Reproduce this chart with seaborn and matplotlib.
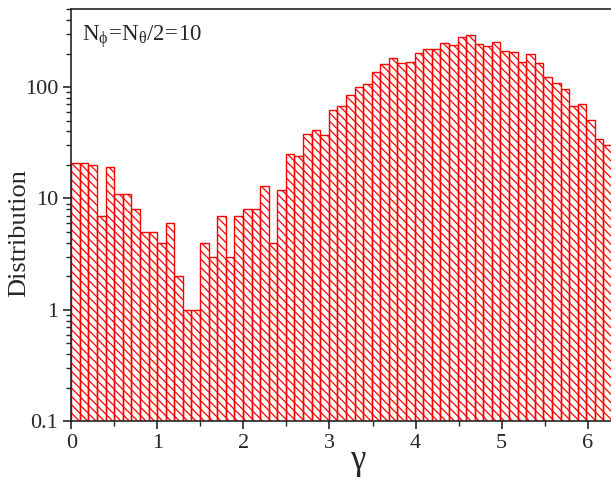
import numpy as np
import pandas as pd
import seaborn as sns
import matplotlib.pyplot as plt
from matplotlib.ticker import FixedLocator, LogLocator, FuncFormatter, MultipleLocator

# counts per bin, 63 bins spanning 0..2*pi
counts = [21, 21, 20, 7, 19, 11, 11, 8, 5, 5,
          4, 6, 2, 1, 1, 4, 3, 7, 3, 7,
          8, 8, 13, 4, 12, 25, 24, 38, 41, 37,
          62, 68, 85, 100, 106, 136, 160, 184, 166, 167,
          201, 221, 219, 246, 236, 280, 294, 244, 234, 252,
          210, 206, 167, 197, 164, 123, 108, 97, 67, 70,
          51, 34, 30]
bin_edges = list(np.linspace(0, 2 * np.pi, len(counts) + 1))
y_ticks = [0.1, 1, 10, 100]
x_ticks = [0, 1, 2, 3, 4, 5, 6]
label_text = r'$\mathregular{N_{\phi}\!=\!N_{\theta}/2\!=\!10}$'

sns.set_style("ticks")
plt.rcParams['font.family'] = 'serif'
plt.rcParams['font.serif'] = ['Liberation Serif', 'DejaVu Serif']
plt.rcParams['mathtext.fontset'] = 'stix'
plt.rcParams['hatch.color'] = 'red'
plt.rcParams['hatch.linewidth'] = 0.9

centers = [(a + b) / 2 for a, b in zip(bin_edges[:-1], bin_edges[1:])]
df = pd.DataFrame({'gamma': centers, 'count': counts})

fig = plt.figure(figsize=(6.11, 4.83), dpi=100)
ax = fig.add_axes([0.1167, 0.128, 0.885, 0.853])
sns.histplot(data=df, x='gamma', weights='count', bins=bin_edges, ax=ax,
             stat='count', element='bars', fill=False, color='red', linewidth=1.0)
for p in ax.patches:
    p.set_hatch('\\\\\\\\')
    p.set_edgecolor('red')

ax.set_yscale('log')
ax.set_ylim(0.1, 500)
ax.set_xlim(0, 2 * np.pi)
ax.yaxis.set_major_locator(FixedLocator(y_ticks))
ax.yaxis.set_minor_locator(LogLocator(base=10, subs=np.arange(2, 10)))
ax.yaxis.set_major_formatter(FuncFormatter(lambda v, _: f'{v:g}'))
ax.xaxis.set_major_locator(FixedLocator(x_ticks))
ax.xaxis.set_minor_locator(MultipleLocator(0.5))

ax.tick_params(which='major', direction='out', length=6, width=1.2, labelsize=16)
ax.tick_params(which='minor', direction='out', length=3.5, width=1.0)
for s in ax.spines.values():
    s.set_linewidth(1.2)
    s.set_visible(True)

ax.set_xlabel('γ', fontsize=25)
ax.xaxis.set_label_coords(0.53, -0.055)
ax.set_ylabel('Distribution', fontsize=19)
ax.yaxis.set_label_coords(-0.076, 0.456)
ax.text(0.02, 0.966, label_text, transform=ax.transAxes, fontsize=16.5, va='top', ha='left')

fig.savefig('out.png', dpi=100)
